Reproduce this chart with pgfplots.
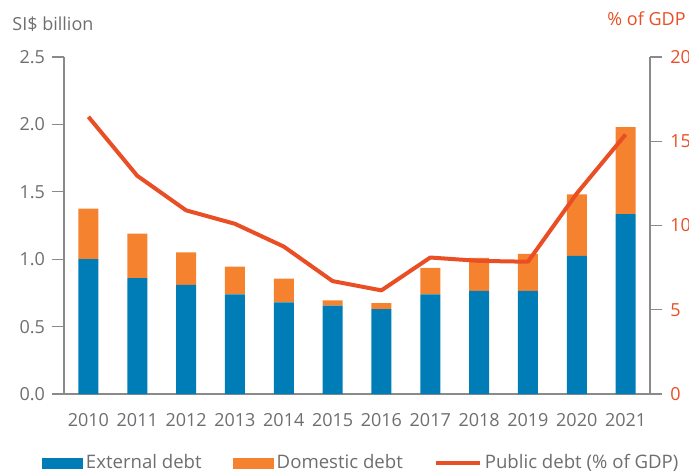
\documentclass[border=0pt]{standalone}
\usepackage{fontspec}
\setmainfont{Open Sans}
\usepackage{pgfplots}
\pgfplotsset{compat=1.18}
\definecolor{ext}{HTML}{007DB7}
\definecolor{dom}{HTML}{F5822F}
\definecolor{pub}{HTML}{E94E24}
\definecolor{txt}{HTML}{6D6E71}
\definecolor{axc}{HTML}{8A8A8A}
\pgfplotstableread{
x ext dom pub
0 1.000 0.375 16.45
1 0.860 0.330 12.95
2 0.810 0.240 10.90
3 0.740 0.205 10.10
4 0.680 0.175 8.75
5 0.655 0.040 6.70
6 0.630 0.045 6.15
7 0.740 0.195 8.10
8 0.765 0.245 7.90
9 0.765 0.275 7.85
10 1.025 0.455 11.90
11 1.335 0.645 15.40
}\data
\newcommand{\fs}{\fontsize{9}{10.8}\selectfont}
\newcommand{\fl}{\fontsize{9.3}{11}\selectfont}
\begin{document}
\begin{tikzpicture}
\useasboundingbox (-32pt,-38.5pt) rectangle (312.5pt,197pt);
\begin{axis}[
  scale only axis, width=293pt, height=168.5pt,
  xmin=-0.5, xmax=11.5, ymin=0, ymax=2.5,
  axis y line*=left, axis x line*=bottom,
  axis line style={axc, line width=0.6pt, -},
  xtick={0,...,11},
  xticklabels={2010,2011,2012,2013,2014,2015,2016,2017,2018,2019,2020,2021},
  x tick style={draw=none},
  ytick={0,0.5,1,1.5,2,2.5},
  y tick style={axc, line width=0.6pt},
  tick align=outside, major tick length=6pt,
  yticklabel style={/pgf/number format/.cd, fixed, fixed zerofill, precision=1},
  every tick label/.append style={font=\fs, text=txt},
  /pgf/number format/assume math mode=true,
  ybar stacked, bar width=10pt,
  legend columns=3,
  legend style={draw=none, fill=none, font=\fl, text=txt,
    at={(rel axis cs:0.508,-0.205)}, anchor=center,
    /tikz/every even column/.append style={column sep=14pt},
    nodes={inner sep=1.5pt}},
]
\addplot[fill=ext, draw=none,
  legend image code/.code={\fill[ext] (0pt,-2.75pt) rectangle (20.5pt,2.75pt);}]
  table[x=x, y=ext] {\data};
\addlegendentry{External debt}
\addplot[fill=dom, draw=none,
  legend image code/.code={\fill[dom] (0pt,-2.75pt) rectangle (20.5pt,2.75pt);}]
  table[x=x, y=dom] {\data};
\addlegendentry{Domestic debt}
\addlegendimage{legend image code/.code={\draw[pub, line width=2pt] (0pt,0pt) -- (22pt,0pt);}}
\addlegendentry{Public debt (\% of GDP)}
\end{axis}
\begin{axis}[
  scale only axis, width=293pt, height=168.5pt,
  xmin=-0.5, xmax=11.5, ymin=0, ymax=20,
  axis y line*=right, axis x line=none,
  axis line style={axc, line width=0.6pt, -},
  ytick={0,5,10,15,20},
  y tick style={axc, line width=0.6pt},
  tick align=outside, major tick length=6pt,
  every tick label/.append style={font=\fs, text=pub},
  yticklabel style={xshift=0.6pt},
  /pgf/number format/assume math mode=true,
]
\addplot[pub, line width=2pt, line join=round, mark=none] table[x=x, y=pub] {\data};
\end{axis}
\node[anchor=west, font=\fs, text=txt, inner sep=0pt] at (-26pt,185pt) {SI\$ billion};
\node[anchor=east, font=\fs, text=pub, inner sep=0pt] at (311pt,187.5pt) {\% of GDP};
\end{tikzpicture}
\end{document}
